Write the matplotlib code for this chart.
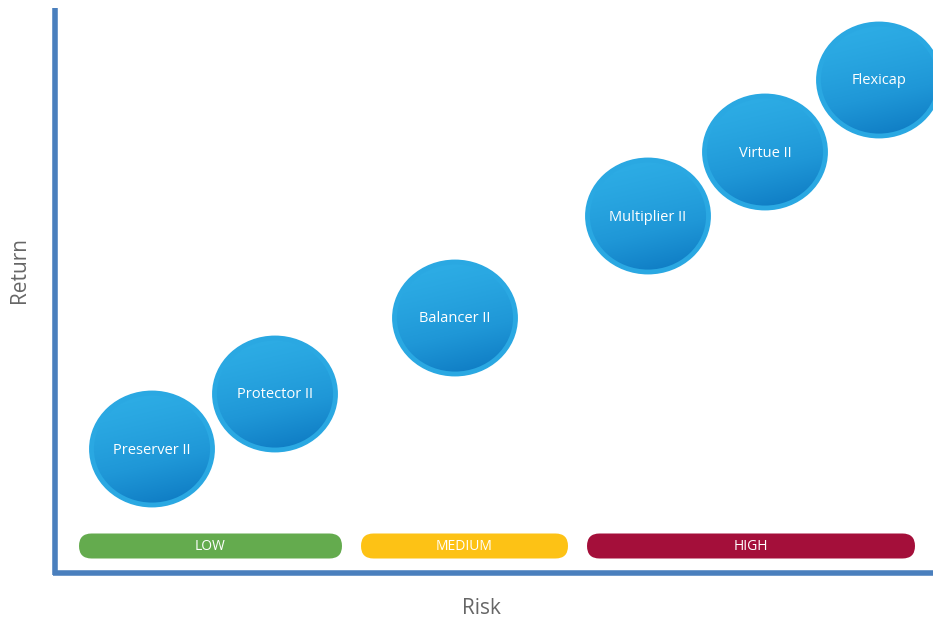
import matplotlib.pyplot as plt
import numpy as np
from matplotlib.patches import Ellipse, FancyBboxPatch
from matplotlib.colors import LinearSegmentedColormap

# fund positions (risk, return) in chart units
funds = ["Preserver II", "Protector II", "Balancer II", "Multiplier II", "Virtue II", "Flexicap"]
risk = [0.95, 2.18, 3.98, 5.91, 7.08, 8.22]
ret = [1.24, 1.79, 2.55, 3.57, 4.21, 4.93]

# risk bands: label, start, end
bands = ["LOW", "MEDIUM", "HIGH"]
band_start = [0.22, 3.04, 5.30]
band_end = [2.85, 5.11, 8.58]
band_colors = ["#64ab4e", "#fdc215", "#a40f3a"]

fig = plt.figure(figsize=(9.33, 6.24), dpi=100)
ax = fig.add_axes([0, 0, 1, 1])
ax.set_xlim(-0.57, 8.76)
ax.set_ylim(-0.51, 5.73)
ax.axis("off")

# axes lines
axis_col = "#4a7fbd"
ax.plot([-0.015, -0.015], [-0.02, 5.65], color=axis_col, lw=4, solid_capstyle="butt")
ax.plot([-0.04, 8.76], [0.0, 0.0], color=axis_col, lw=4, solid_capstyle="butt")
ax.text(-0.37, 3.03, "Return", rotation=90, ha="center", va="center",
        fontsize=15, color="#666666", family="Open Sans")
ax.text(4.24, -0.36, "Risk", ha="center", va="center",
        fontsize=15, color="#666666", family="Open Sans")

# bands
for lab, s, e, c in zip(bands, band_start, band_end, band_colors):
    h = 0.25
    box = FancyBboxPatch((s, 0.27 - h / 2), e - s, h,
                         boxstyle="round,pad=0,rounding_size=0.125",
                         facecolor=c, edgecolor="none")
    ax.add_patch(box)
    ax.text((s + e) / 2, 0.26, lab, ha="center", va="center",
            fontsize=10, color="white", family="Open Sans")

# bubbles
cmap = LinearSegmentedColormap.from_list("blu", ["#2eaee6", "#1f97d7", "#0a74be"])
w, hgt = 1.24, 1.15
yy, xx = np.mgrid[0:1:200j, 0:1:200j]
grad = 0.8 * yy + 0.2 * xx
grad = grad ** 1.4
for name, x, y in zip(funds, risk, ret):
    el = Ellipse((x, y), w, hgt, facecolor="none", edgecolor="none")
    ax.add_patch(el)
    im = ax.imshow(grad, cmap=cmap, extent=(x - w / 2, x + w / 2, y - hgt / 2, y + hgt / 2),
                   origin="upper", aspect="auto", zorder=2, interpolation="bilinear")
    im.set_clip_path(el)
    ring = Ellipse((x, y), w - 0.03, hgt - 0.03, facecolor="none",
                   edgecolor="#2aa8e2", lw=3.5, zorder=3)
    ax.add_patch(ring)
    ax.text(x, y - 0.01, name, ha="center", va="center", fontsize=10.5,
            color="white", family="Open Sans", zorder=4)

ax.set_xlim(-0.57, 8.76)
ax.set_ylim(-0.51, 5.73)
fig.savefig("out.png", dpi=100)
